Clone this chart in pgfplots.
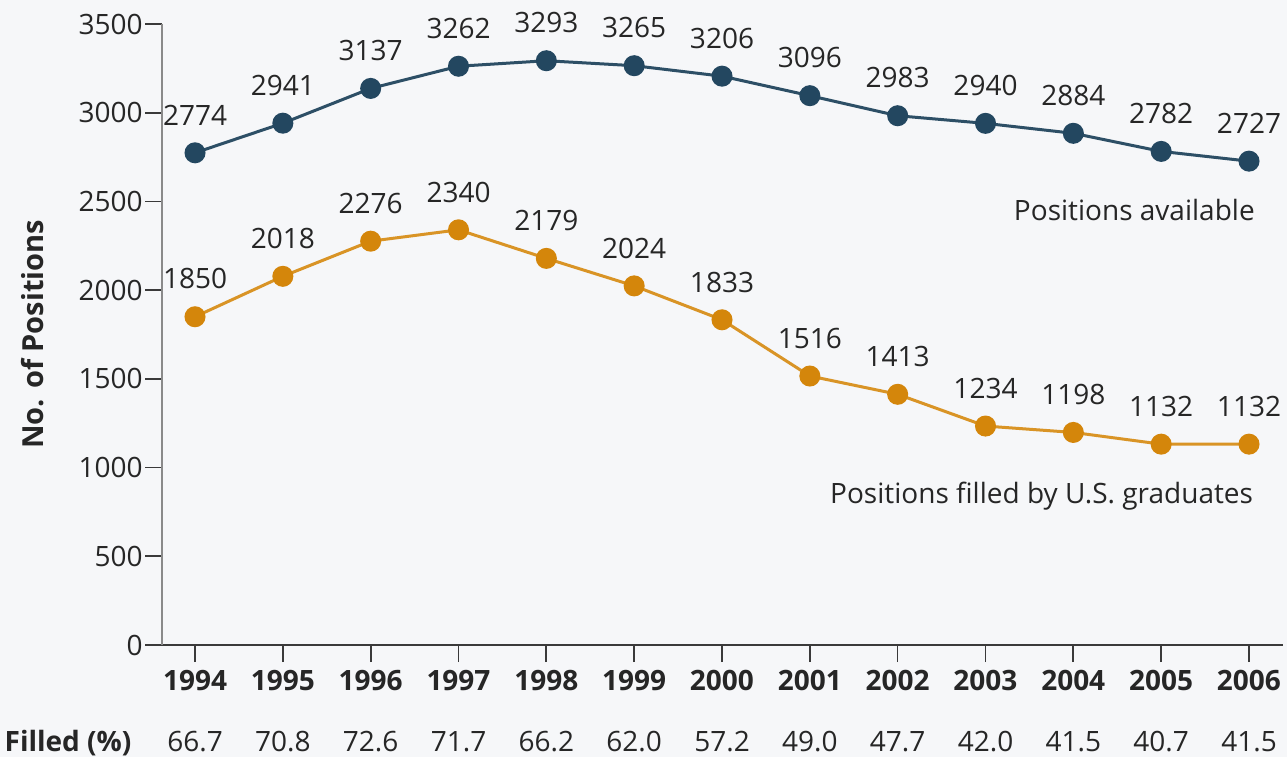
\documentclass[border=0pt]{standalone}
\usepackage{pgfplots}
\pgfplotsset{compat=1.18}
\usepackage{fontspec}
\setmainfont{Open Sans}
\definecolor{bgc}{HTML}{F6F7F9}
\definecolor{blueL}{HTML}{2D4F66}
\definecolor{blueM}{HTML}{234760}
\definecolor{orL}{HTML}{D99426}
\definecolor{orM}{HTML}{D4860B}
\definecolor{txt}{HTML}{262626}
\definecolor{yax}{HTML}{8A8A8A}
\definecolor{xax}{HTML}{3A3A3A}
\begin{document}
\begin{tikzpicture}
\fill[bgc] (-81pt,-56pt) rectangle (562.5pt,322.5pt);
\useasboundingbox (-81pt,-56pt) rectangle (562.5pt,322.5pt);
\begin{axis}[
  at={(0,0)}, anchor=south west,
  scale only axis, width=560.5pt, height=310.5pt,
  xmin=1993.624, xmax=2006.387, ymin=0, ymax=3500,
  axis x line=bottom, axis y line=left,
  x axis line style={-, draw=xax, line width=1pt},
  y axis line style={-, draw=yax, line width=1pt},
  xtick={1994,...,2006},
  xticklabels={1994,1995,1996,1997,1998,1999,2000,2001,2002,2003,2004,2005,2006},
  ytick={0,500,...,3500},
  yticklabels={0,500,1000,1500,2000,2500,3000,3500},
  tick align=outside,
  major tick length=8.5pt,
  tick style={draw=xax, line width=0.9pt},
  xticklabel style={font=\bfseries\fontsize{14}{16}\selectfont, text=txt, anchor=north, inner sep=0pt, yshift=-4pt},
  yticklabel style={font=\fontsize{14}{16}\selectfont, text=txt, anchor=east, inner sep=0pt, xshift=-1pt},
  clip=false,
  every node near coord/.append style={font=\fontsize{14}{16}\selectfont, text=txt, inner sep=0pt, anchor=south, yshift=13pt},
]
\addplot[color=blueL, line width=1.5pt, mark=*, mark size=4.5pt, mark options={fill=blueM, draw=blueM}, nodes near coords, point meta=explicit symbolic]
  coordinates {
  (1994,2774)[2774] (1995,2941)[2941] (1996,3137)[3137] (1997,3262)[3262]
  (1998,3293)[3293] (1999,3265)[3265] (2000,3206)[3206] (2001,3096)[3096]
  (2002,2983)[2983] (2003,2940)[2940] (2004,2884)[2884] (2005,2782)[2782]
  (2006,2727)[2727]};
\addplot[color=orL, line width=1.5pt, mark=*, mark size=4.5pt, mark options={fill=orM, draw=orM}, nodes near coords, point meta=explicit symbolic]
  coordinates {
  (1994,1850)[1850] (1995,2078)[2018] (1996,2276)[2276] (1997,2340)[2340]
  (1998,2179)[2179] (1999,2024)[2024] (2000,1833)[1833] (2001,1516)[1516]
  (2002,1413)[1413] (2003,1234)[1234] (2004,1198)[1198] (2005,1132)[1132]
  (2006,1132)[1132]};
\node[anchor=base east, inner sep=0pt, text=txt, font=\fontsize{14}{16}\selectfont] at (axis cs:2006.07,2395) {Positions available};
\node[anchor=base east, inner sep=0pt, text=txt, font=\fontsize{14}{16}\selectfont] at (axis cs:2006.05,795) {Positions filled by U.S. graduates};
\node[rotate=90, inner sep=0pt, text=txt, font=\bfseries\fontsize{14.5}{16}\selectfont] at (axis cs:1992.155,1751) {No. of Positions};
\node[anchor=base east, inner sep=0pt, text=txt, font=\bfseries\fontsize{14}{16}\selectfont] at (axis cs:1993.28,-603) {Filled (\%)};
\foreach \yr/\pc in {1994/66.7,1995/70.8,1996/72.6,1997/71.7,1998/66.2,1999/62.0,2000/57.2,2001/49.0,2002/47.7,2003/42.0,2004/41.5,2005/40.7,2006/41.5}{
  \edef\tmp{\noexpand\node[anchor=base, inner sep=0pt, text=txt, font=\noexpand\fontsize{14}{16}\noexpand\selectfont] at (axis cs:\yr,-603) {\pc};}
  \tmp
}
\end{axis}
\end{tikzpicture}
\end{document}
